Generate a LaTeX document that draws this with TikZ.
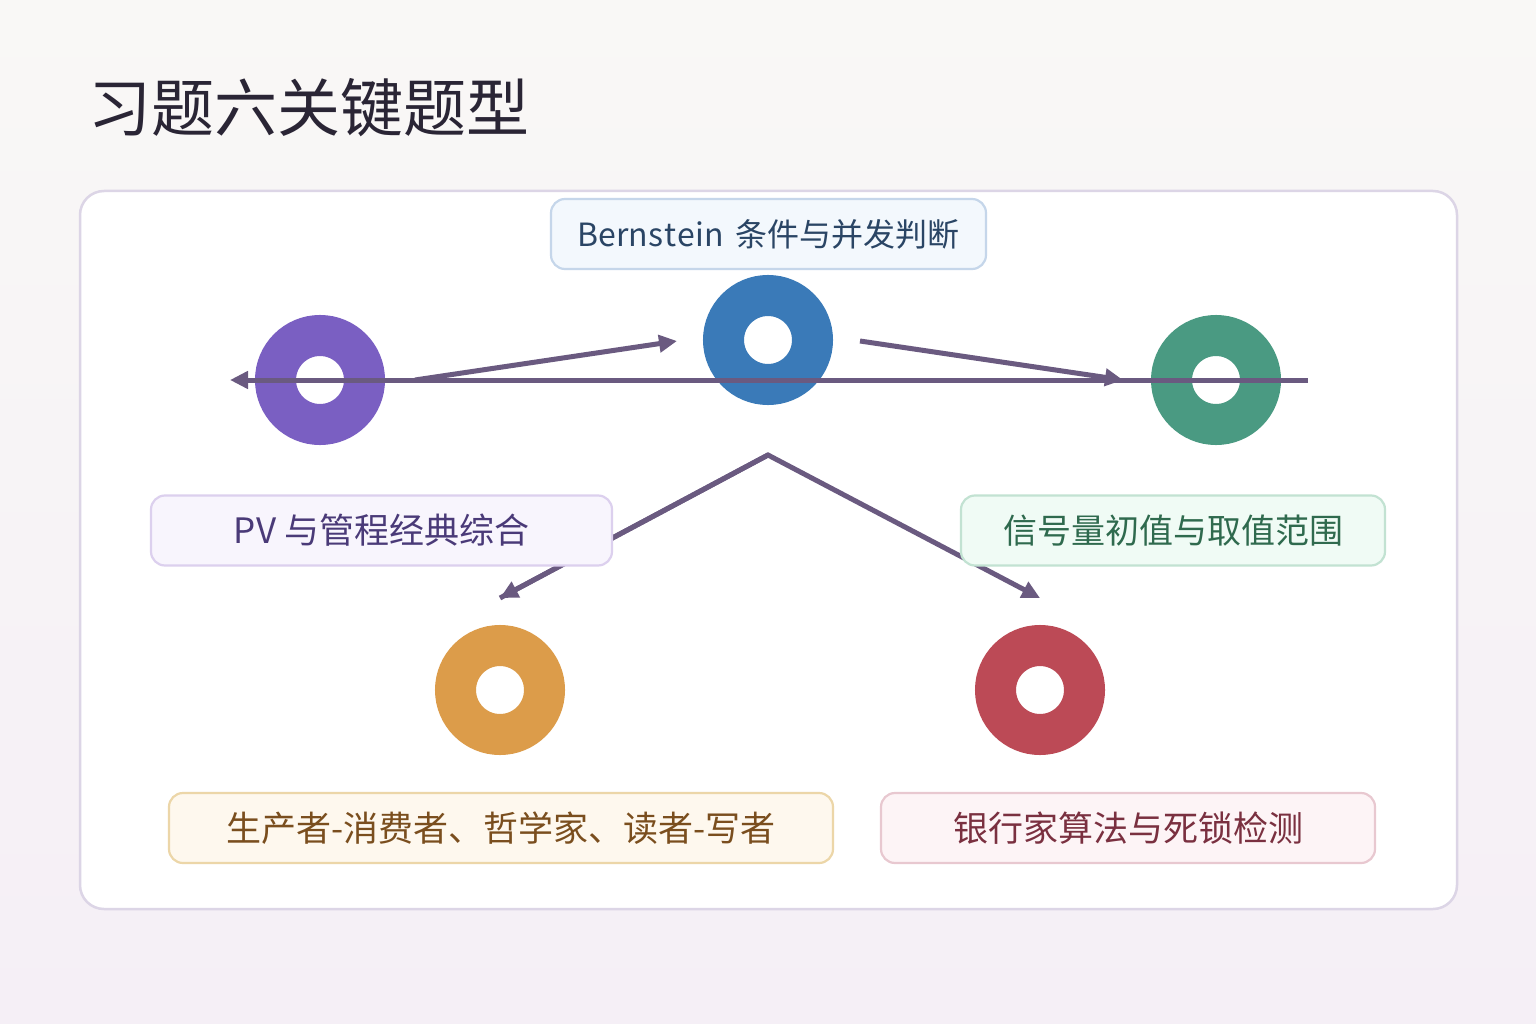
\documentclass[tikz,border=0pt]{standalone}
\usepackage{fontspec}
\setmainfont{Noto Sans CJK SC}
\usetikzlibrary{arrows.meta,calc}
\definecolor{bgtop}{HTML}{F9F8F6}
\definecolor{bgbot}{HTML}{F5EFF6}
\definecolor{panelborder}{HTML}{DCD5E6}
\definecolor{linec}{HTML}{6A5A80}
\definecolor{titlec}{HTML}{2A2535}
\definecolor{cpurple}{HTML}{7A5FC2}
\definecolor{cblue}{HTML}{3A7AB8}
\definecolor{cgreen}{HTML}{4A9A82}
\definecolor{corange}{HTML}{DC9C4A}
\definecolor{cred}{HTML}{BC4A56}
\definecolor{bfill}{HTML}{F3F8FD}\definecolor{bdraw}{HTML}{C5D6EA}\definecolor{btext}{HTML}{2A4565}
\definecolor{pfill}{HTML}{F8F5FD}\definecolor{pdraw}{HTML}{DCD0EE}\definecolor{ptext}{HTML}{4A3A78}
\definecolor{gfill}{HTML}{F0FBF5}\definecolor{gdraw}{HTML}{C2E2D2}\definecolor{gtext}{HTML}{2F6A4E}
\definecolor{ofill}{HTML}{FEF8EE}\definecolor{odraw}{HTML}{ECD6A8}\definecolor{otext}{HTML}{7A4E1E}
\definecolor{rfill}{HTML}{FDF4F6}\definecolor{rdraw}{HTML}{E8C8D0}\definecolor{rtext}{HTML}{7A3040}
\tikzset{
  donut/.style={circle, minimum size=89pt, inner sep=0pt, line width=41pt, draw=#1},
  lbl/.style n args={3}{rectangle, rounded corners=14pt, line width=2.2pt, draw=#2, fill=#1,
    text=#3, minimum height=70pt, inner sep=0pt, font=\fontsize{35pt}{38pt}\selectfont},
  arr/.style={line width=5pt, draw=linec, -{Triangle[length=18pt,width=17pt]}},
}
\begin{document}
\begin{tikzpicture}[x=1pt,y=-1pt]
\shade[top color=bgtop, bottom color=bgbot] (0,0) rectangle (1536,1024);
\useasboundingbox (0,0) rectangle (1536,1024);
\node[anchor=west, text=titlec, font=\fontsize{63pt}{68pt}\selectfont, inner sep=0pt] (title) at (88,108) {习题六关键题型};
\draw[panelborder, line width=2.5pt, fill=white, rounded corners=24pt] (80,191) rectangle (1457,909);
% donuts
\node[donut=cpurple] (pv) at (320,380) {};
\node[donut=cblue] (bern) at (768,340) {};
\node[donut=cgreen] (sem) at (1216,380) {};
\node[donut=corange] (prod) at (500,690) {};
\node[donut=cred] (bank) at (1040,690) {};
% connectors
\coordinate (gEnd) at ($(sem)+(92,0)$);
\coordinate (pEnd) at ($(pv)+(-90,0)$);
\draw[arr] (gEnd) -- (pEnd);
\draw[arr] ($(pv)+(95,0)$) -- ($(bern)+(-91,1)$);
\draw[arr] ($(bern)+(92,1)$) -- ($(sem)+(-93,0)$);
\coordinate (fork) at ($(bern)+(0,115)$);
\draw[arr, line join=miter] ($(prod)+(0,-92)$) -- (fork) -- ($(bank)+(0,-92)$);
\draw[arr] (fork) -- ($(prod)+(0,-92)$);
% labels
\node[lbl={bfill}{bdraw}{btext}, minimum width=435pt, font=\fontsize{32pt}{36pt}\selectfont] (lb) at (768.5,234) {Bern\kern0.6pt s\kern0.6pt t\kern0.6pt e\kern0.6pt i\kern0.6pt n\hspace{4pt} 条件与并发判断};
\node[lbl={pfill}{pdraw}{ptext}, minimum width=461pt] (lp) at (381.5,530.5) {PV 与管程经典综合};
\node[lbl={gfill}{gdraw}{gtext}, minimum width=424pt, font=\fontsize{34pt}{38pt}\selectfont] (lg) at (1173,530.5) {信号量初值与取值范围};
\node[lbl={ofill}{odraw}{otext}, minimum width=664pt] (lo) at (501,828) {生产者-消费者、哲学家、读者-写者};
\node[lbl={rfill}{rdraw}{rtext}, minimum width=494pt] (lr) at (1128,828) {银行家算法与死锁检测};
\end{tikzpicture}
\end{document}
